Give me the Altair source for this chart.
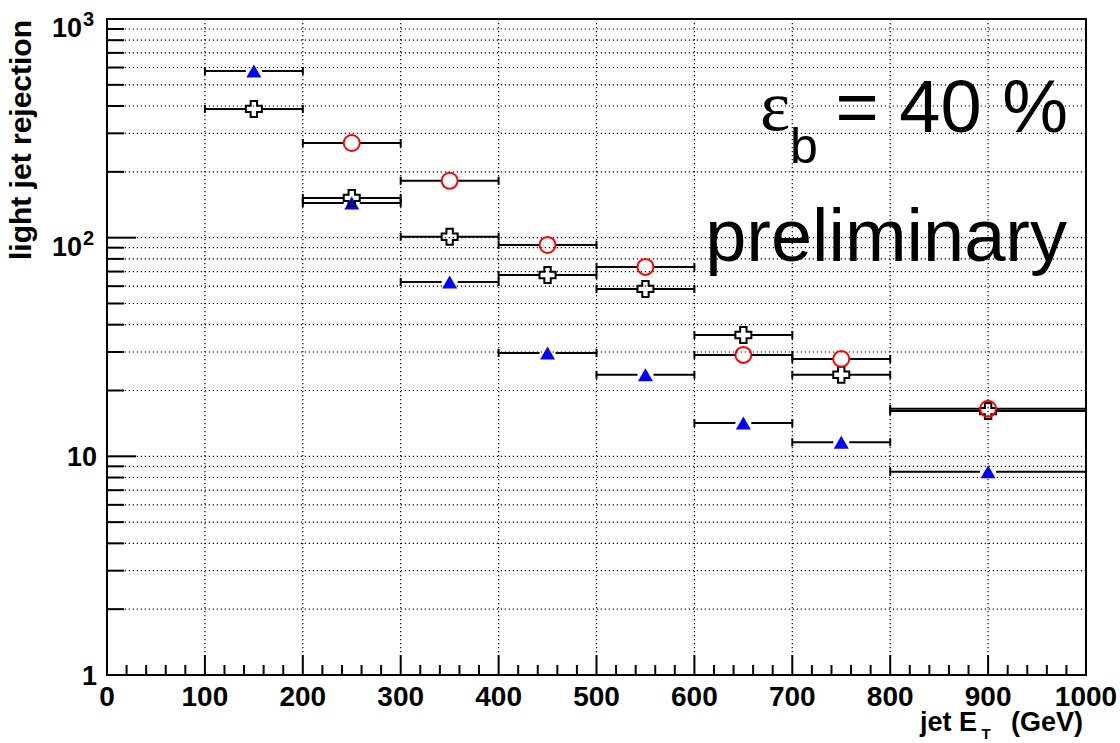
import altair as alt
import pandas as pd

# Jet E_T bins (GeV)
bin_lo = [100, 200, 300, 400, 500, 600, 700, 800]
bin_hi = [200, 300, 400, 500, 600, 700, 800, 1000]

# Light jet rejection per bin for the three taggers
tri_vals = [578, 144, 62.7, 29.7, 23.6, 14.2, 11.6, 8.5]
cross_vals = [388, 152, 101, 67.5, 58.3, 35.9, 23.6, 16.1]
circle_vals = [271, 182, 92.6, 73.5, 29.1, 27.9, 16.5]  # starts at the 200 GeV bin

# Axis ticks / grid
x_ticks = [0, 100, 200, 300, 400, 500, 600, 700, 800, 900, 1000]
x_tick_labels = ["0", "100", "200", "300", "400", "500", "600", "700", "800", "900", "1000"]
x_minor = [v for v in range(20, 1000, 20) if v % 100 != 0]
x_major = [100, 200, 300, 400, 500, 600, 700, 800, 900]
y_major = [10, 100]
y_minor = [2, 3, 4, 5, 6, 7, 8, 9, 20, 30, 40, 50, 60, 70, 80, 90,
           200, 300, 400, 500, 600, 700, 800, 900]
y_label_vals = [1, 10, 100, 1000]
y_label_base = ["1", "10", "10", "10"]
y_label_exp = ["", "", "2", "3"]

W, H = 979, 656
FONT = "Liberation Sans"


def series(name, vals, offset=0):
    lo = bin_lo[offset:offset + len(vals)]
    hi = bin_hi[offset:offset + len(vals)]
    return pd.DataFrame({
        "series": name,
        "lo": lo,
        "hi": hi,
        "mid": [(a + b) / 2 for a, b in zip(lo, hi)],
        "val": vals,
    })


df_tri = series("tri", tri_vals)
df_cross = series("cross", cross_vals)
df_circ = series("circle", circle_vals, offset=1)
df_all = pd.concat([df_tri, df_cross, df_circ], ignore_index=True)

xs = alt.Scale(domain=[0, 1000], nice=False, zero=False)
ys = alt.Scale(type="log", domain=[1, 1000], nice=False)
X = lambda f: alt.X(f, scale=xs, axis=None)
Y = lambda f: alt.Y(f, scale=ys, axis=None)

# dotted grid
grid_x = alt.Chart(pd.DataFrame({"v": x_major})).mark_rule(
    color="black", strokeWidth=1.2, strokeDash=[1.2, 2.8]).encode(x=X("v:Q"))
grid_y = alt.Chart(pd.DataFrame({"v": y_minor + y_major})).mark_rule(
    color="black", strokeWidth=1.2, strokeDash=[1.2, 2.8]).encode(y=Y("v:Q"))

GAP = 8

# horizontal error bars with a gap around each marker
bars_left = alt.Chart(df_all).mark_rule(color="black", strokeWidth=2, x2Offset=-GAP).encode(
    x=X("lo:Q"), x2="mid:Q", y=Y("val:Q"))
bars_right = alt.Chart(df_all).mark_rule(color="black", strokeWidth=2, xOffset=GAP).encode(
    x=X("mid:Q"), x2="hi:Q", y=Y("val:Q"))
caps_lo = alt.Chart(df_all).mark_tick(orient="vertical", size=8, thickness=2,
                                      color="black", opacity=1).encode(x=X("lo:Q"), y=Y("val:Q"))
caps_hi = alt.Chart(df_all).mark_tick(orient="vertical", size=8, thickness=2,
                                      color="black", opacity=1).encode(x=X("hi:Q"), y=Y("val:Q"))

tri = alt.Chart(df_tri).mark_point(shape="triangle-up", filled=True, color="#0000ff",
                                   size=225, opacity=1).encode(x=X("mid:Q"), y=Y("val:Q"))
cross = alt.Chart(df_cross).mark_point(shape="cross", filled=False, color="black",
                                       size=256, strokeWidth=2, opacity=1).encode(x=X("mid:Q"), y=Y("val:Q"))
circ = alt.Chart(df_circ).mark_point(shape="circle", filled=False, color="#ff0000",
                                     size=256, strokeWidth=2, opacity=1).encode(x=X("mid:Q"), y=Y("val:Q"))

# inward-pointing ticks on the bottom and left frame
xt_minor = alt.Chart(pd.DataFrame({"v": x_minor})).mark_rule(color="black", strokeWidth=2).encode(
    x=X("v:Q"), y=alt.value(H), y2=alt.value(H - 10))
xt_major = alt.Chart(pd.DataFrame({"v": x_major})).mark_rule(color="black", strokeWidth=2).encode(
    x=X("v:Q"), y=alt.value(H), y2=alt.value(H - 20))
yt_minor = alt.Chart(pd.DataFrame({"v": y_minor})).mark_rule(color="black", strokeWidth=2).encode(
    y=Y("v:Q"), x=alt.value(0), x2=alt.value(17))
yt_major = alt.Chart(pd.DataFrame({"v": y_major})).mark_rule(color="black", strokeWidth=2).encode(
    y=Y("v:Q"), x=alt.value(0), x2=alt.value(29))

# x tick labels
xlab = alt.Chart(pd.DataFrame({"v": x_ticks, "t": x_tick_labels})).mark_text(
    font=FONT, fontSize=28, fontWeight="bold", align="center", baseline="alphabetic",
    color="black").encode(x=X("v:Q"), y=alt.value(H + 31), text="t:N")

# y tick labels with powers of ten
ylab = pd.DataFrame({"v": y_label_vals, "base": y_label_base, "exp": y_label_exp})
ylab_plain = alt.Chart(ylab[ylab["exp"] == ""]).mark_text(
    font=FONT, fontSize=27, fontWeight="bold", align="right", baseline="alphabetic",
    dy=10, color="black").encode(y=Y("v:Q"), x=alt.value(-10), text="base:N")
ylab_pow = alt.Chart(ylab[ylab["exp"] != ""]).mark_text(
    font=FONT, fontSize=27, fontWeight="bold", align="right", baseline="alphabetic",
    dy=18, color="black").encode(y=Y("v:Q"), x=alt.value(-25), text="base:N")
ylab_exp = alt.Chart(ylab[ylab["exp"] != ""]).mark_text(
    font=FONT, fontSize=20, fontWeight="bold", align="left", baseline="alphabetic",
    dy=7, color="black").encode(y=Y("v:Q"), x=alt.value(-24), text="exp:N")


def label(txt, x, y, size, align="left", weight="normal", font=FONT, angle=0):
    kw = dict(font=font, fontSize=size, fontWeight=weight, align=align,
              baseline="alphabetic", color="black")
    if angle:
        kw["angle"] = angle
    return alt.Chart(pd.DataFrame({"t": [txt]})).mark_text(**kw).encode(
        text="t:N", x=alt.value(x), y=alt.value(y))


y_title = label("light jet rejection", -76, 1, 30, align="right", weight="bold", angle=270)
x_title_a = label("jet E", 813, 712, 27, weight="bold")
x_title_sub = label("T", 879, 720, 15, align="center", weight="bold")
x_title_b = label("(GeV)", 976, 712, 27, align="right", weight="bold")

eps = label("\u03b5", 653, 111, 72, font="Liberation Serif")
eps_sub = label("b", 683, 144, 50)
eff = label("= 40 %", 961, 113, 74, align="right")
prelim = label("preliminary", 960, 242, 74, align="right")

chart = alt.layer(
    grid_x, grid_y,
    bars_left, bars_right, caps_lo, caps_hi,
    tri, cross, circ,
    xt_minor, xt_major, yt_minor, yt_major,
    xlab, ylab_plain, ylab_pow, ylab_exp,
    y_title, x_title_a, x_title_sub, x_title_b,
    eps, eps_sub, eff, prelim,
).properties(
    width=W, height=H,
    autosize=alt.AutoSizeParams(type="none"),
    padding={"left": 107, "top": 19, "right": 34, "bottom": 68},
    background="white",
).configure_view(
    stroke="black", strokeWidth=2, fill="white",
)

chart.save("out.html", embed_options={"renderer": "svg", "actions": False})
